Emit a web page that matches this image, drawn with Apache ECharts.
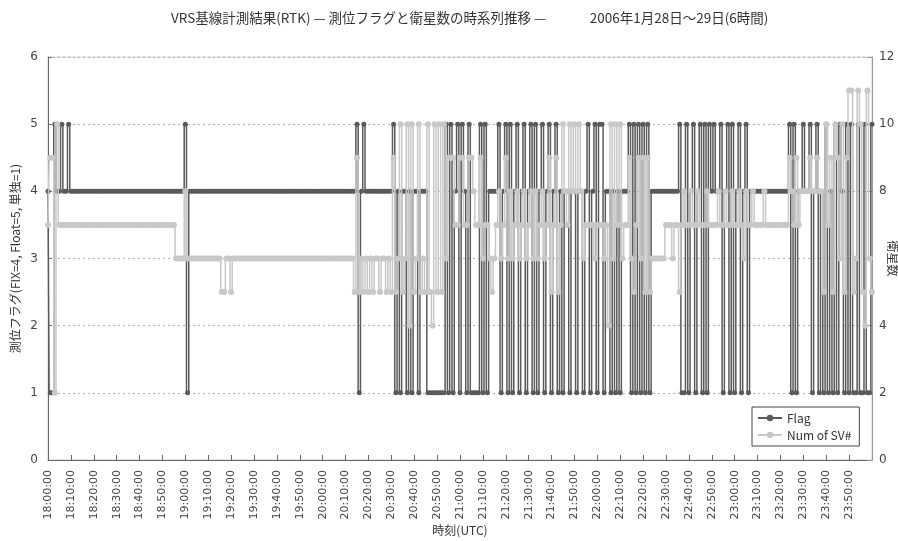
<!DOCTYPE html>
<html><head><meta charset="utf-8">
<script src="https://cdn.jsdelivr.net/npm/echarts@6/dist/echarts.min.js"></script>
<style>html,body{margin:0;padding:0;background:#fff}#c{width:898px;height:541px}</style>
</head><body><div id="c"></div>
<script>
// x-axis tick labels (every 10 minutes)
const tickLabels = ['18:00:00','18:10:00','18:20:00','18:30:00','18:40:00','18:50:00',
  '19:00:00','19:10:00','19:20:00','19:30:00','19:40:00','19:50:00',
  '20:00:00','20:10:00','20:20:00','20:30:00','20:40:00','20:50:00',
  '21:00:00','21:10:00','21:20:00','21:30:00','21:40:00','21:50:00',
  '22:00:00','22:10:00','22:20:00','22:30:00','22:40:00','22:50:00',
  '23:00:00','23:10:00','23:20:00','23:30:00','23:40:00','23:50:00'];

// Flag (FIX=4, Float=5, single=1), one sample per minute 18:00 .. 24:00
const flag = [
  4,1,1,5,4,4,5,4,4,5,  4,4,4,4,4,4,4,4,4,4,  4,4,4,4,4,4,4,4,4,4,
  4,4,4,4,4,4,4,4,4,4,  4,4,4,4,4,4,4,4,4,4,  4,4,4,4,4,4,4,4,4,4,
  5,1,4,4,4,4,4,4,4,4,  4,4,4,4,4,4,4,4,4,4,  4,4,4,4,4,4,4,4,4,4,
  4,4,4,4,4,4,4,4,4,4,  4,4,4,4,4,4,4,4,4,4,  4,4,4,4,4,4,4,4,4,4,
  4,4,4,4,4,4,4,4,4,4,  4,4,4,4,4,5,1,4,5,4,  4,4,4,4,4,4,4,4,4,4,
  4,5,1,4,1,4,4,1,4,1,  4,4,1,4,4,4,1,1,1,1,  1,1,1,1,5,1,5,1,4,5,
  1,5,4,1,5,1,1,1,1,5,  1,5,1,4,4,4,4,5,1,4,  5,1,5,1,4,5,1,4,5,1,
  4,5,1,5,1,4,5,1,4,5,  1,4,5,1,4,1,4,4,1,4,  4,1,4,4,1,4,5,1,4,5,
  1,5,5,1,4,4,1,4,1,4,  1,4,4,4,5,1,5,1,5,1,  5,1,5,1,4,4,4,4,4,4,
  4,4,4,4,4,4,5,1,1,5,  1,4,5,1,4,5,1,5,1,5,  4,5,4,4,5,1,4,5,1,5,
  1,4,5,1,4,5,1,4,4,4,  4,4,4,4,4,4,4,4,4,4,  4,4,4,4,5,1,5,1,4,4,
  5,4,4,5,1,4,5,1,4,1,  5,1,4,1,5,1,5,4,1,5,  1,5,1,1,5,1,1,5,1,1,
  5
];

// Number of satellites, one sample per minute 18:00 .. 24:00
const numSV = [
  7,9,9,2,10,7,7,7,7,7, 7,7,7,7,7,7,7,7,7,7,  7,7,7,7,7,7,7,7,7,7,
  7,7,7,7,7,7,7,7,7,7,  7,7,7,7,7,7,7,7,7,7,  7,7,7,7,7,7,6,6,6,6,
  8,6,6,6,6,6,6,6,6,6,  6,6,6,6,6,6,5,5,6,6,  5,6,6,6,6,6,6,6,6,6,
  6,6,6,6,6,6,6,6,6,6,  6,6,6,6,6,6,6,6,6,6,  6,6,6,6,6,6,6,6,6,6,
  6,6,6,6,6,6,6,6,6,6,  6,6,6,6,5,9,5,6,5,6,  5,6,5,6,6,5,6,6,5,6,
  5,9,5,6,10,5,6,10,4,10, 5,6,10,5,6,5,10,5,4,10, 5,10,5,10,6,9,9,9,7,7,
  9,9,7,7,9,9,8,7,7,9,  6,7,7,6,5,6,7,8,6,7,  9,6,8,6,7,8,6,7,8,6,
  7,8,6,8,6,7,8,6,7,9,  5,7,9,5,7,10,8,7,10,8, 10,8,10,8,6,7,7,7,7,6,
  7,7,7,6,7,4,10,6,10,7, 10,6,7,7,9,6,5,7,9,6, 9,5,9,5,6,6,6,6,6,6,
  7,7,7,6,7,7,5,7,8,7,  7,8,7,7,8,7,7,7,8,7,  7,7,7,8,7,7,8,7,7,8,
  7,7,8,7,6,8,7,7,8,7,  7,7,7,8,7,7,7,7,7,7,  7,7,7,7,9,8,7,9,7,8,
  8,8,8,9,8,8,9,8,8,5,  10,7,9,5,10,9,6,10,5,9, 11,11,5,6,11,10,5,4,11,6,
  5
];

// one category per minute (18:00:00 .. 24:00:00)
const times = [];
for (let i = 0; i < flag.length; i++) {
  const h = 18 + Math.floor(i / 60), mi = i % 60;
  times.push(String(h).padStart(2,'0') + ':' + String(mi).padStart(2,'0') + ':00');
}
const tickSet = new Set(tickLabels);

const FONT = "'Noto Sans CJK JP', 'Noto Sans', sans-serif";
const chart = echarts.init(document.getElementById('c'), null, {renderer: 'canvas'});
chart.setOption({
  animation: false,
  textStyle: {fontFamily: FONT},
  title: {
    text: 'VRS基線計測結果(RTK) — 測位フラグと衛星数の時系列推移 —\u3000\u3000\u3000 2006年1月28日〜29日(6時間)',
    left: 166, top: 6,
    textStyle: {fontSize: 13.5, fontWeight: 'normal', color: '#333', fontFamily: FONT}
  },
  grid: {left: 48, right: 26, top: 57, bottom: 81, outerBoundsMode: 'none', containLabel: false,
    show: true, borderColor: '#d0d0d0', borderWidth: 1},
  legend: {
    orient: 'vertical', left: 752, top: 407,
    borderColor: '#444', borderWidth: 1, backgroundColor: '#fff',
    padding: [5, 8, 5, 5], itemGap: 5, itemWidth: 24, itemHeight: 8,
    textStyle: {fontSize: 12, color: '#333', fontFamily: FONT},
    data: ['Flag', 'Num of SV#']
  },
  xAxis: {
    type: 'category', data: times, boundaryGap: false,
    name: '時刻(UTC)', nameLocation: 'middle', nameGap: 64, nameMoveOverlap: false,
    nameTextStyle: {fontSize: 12, color: '#333', fontFamily: FONT},
    axisLine: {lineStyle: {color: '#666', width: 1}},
    axisTick: {inside: true, length: 5, lineStyle: {color: '#666'},
      interval: (i, v) => tickSet.has(v)},
    axisLabel: {rotate: 90, fontSize: 11, color: '#444', margin: 10, fontFamily: 'DejaVu Sans',
      interval: (i, v) => tickSet.has(v)},
    splitLine: {show: false}
  },
  yAxis: [
    {
      type: 'value', min: 0, max: 6, interval: 1,
      name: '測位フラグ(FIX=4, Float=5, 単独=1)', nameLocation: 'middle', nameGap: 27, nameMoveOverlap: false,
      nameTextStyle: {fontSize: 12, color: '#333', fontFamily: FONT},
      axisLine: {show: true, lineStyle: {color: '#666'}},
      axisTick: {show: true, inside: true, length: 4, lineStyle: {color: '#666'}},
      axisLabel: {fontSize: 12, color: '#444', margin: 10, fontFamily: 'DejaVu Sans'},
      splitLine: {show: true, lineStyle: {color: '#b0b0b0', type: [2, 3], width: 1}}
    },
    {
      type: 'value', min: 0, max: 12, interval: 2,
      name: '衛星数', nameLocation: 'middle', nameGap: 15, nameRotate: -90, nameMoveOverlap: false,
      nameTextStyle: {fontSize: 12, color: '#333', fontFamily: FONT},
      axisLine: {show: true, lineStyle: {color: '#999'}},
      axisTick: {show: true, inside: true, length: 5, lineStyle: {color: '#999'}},
      axisLabel: {fontSize: 12, color: '#444', margin: 7, fontFamily: 'DejaVu Sans',
        formatter: v => (v === 6 ? '' : String(v))},
      splitLine: {show: false}
    }
  ],
  series: [
    {
      name: 'Flag', type: 'line', yAxisIndex: 0, data: flag, step: 'middle',
      symbol: 'circle', symbolSize: 5, showAllSymbol: true,
      lineStyle: {color: '#5a5a5a', width: 1.5},
      itemStyle: {color: '#5a5a5a', borderWidth: 0},
      z: 2
    },
    {
      name: 'Num of SV#', type: 'line', yAxisIndex: 1, data: numSV, step: 'middle',
      symbol: 'circle', symbolSize: 6, showAllSymbol: true,
      lineStyle: {color: '#c8c8c8', width: 1.5},
      itemStyle: {color: '#c8c8c8', borderWidth: 0},
      z: 3
    }
  ]
});
</script></body></html>
